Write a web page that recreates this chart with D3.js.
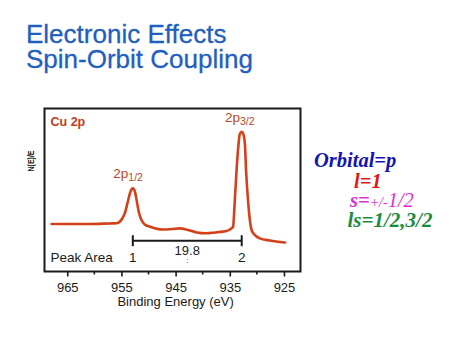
<!DOCTYPE html>
<html>
<head>
<meta charset="utf-8">
<script src="https://cdn.jsdelivr.net/npm/d3@7"></script>
<style>
html,body{margin:0;padding:0;background:#fff;}
svg{display:block;}
</style>
</head>
<body>
<svg id="chart" width="474" height="355"></svg>
<script>
// ---- data ----
const energy = [967.9, 964.5, 960.8, 957.1, 955.9, 954.9, 954.35, 953.75, 953.35, 952.9, 952.5, 952.2, 951.8, 951.3, 950.7, 949.7, 947.3, 945.7, 944.2, 942.7, 941.1, 939.3, 937.75, 936.3, 935.6, 935.0, 934.4, 934.1, 933.75, 933.4, 933.15, 932.8, 932.5, 932.2, 932.0, 931.6, 931.3, 930.98, 930.4, 929.45, 927.6, 924.8];
const intensity = [29.3, 29.3, 29.3, 29.6, 29.7, 32.3, 36.0, 43.9, 48.8, 51.0, 48.8, 43.9, 36.6, 31.7, 29.0, 27.6, 25.9, 26.2, 26.6, 25.6, 24.1, 23.6, 24.1, 24.6, 25.0, 25.9, 27.6, 42.1, 62.2, 77.4, 84.1, 85.5, 84.1, 77.4, 62.2, 42.1, 31.7, 25.6, 22.6, 20.5, 19.2, 18.0];
const tickValues = [965, 955, 945, 935, 925];
const minorTicks = [960, 950, 940, 930];
const peakEnergies = [952.9, 932.8];
const peakLabels = ["1/2", "3/2"];
const peakAreas = ["1", "2"];
const splitting = "19.8";
const titleLines = ["Electronic Effects", "Spin-Orbit Coupling"];

const svg = d3.select("#chart");
const x = d3.scaleLinear().domain([969.2, 921.95]).range([44.5, 300.5]);
const y = d3.scaleLinear().domain([0, 100]).range([272, 108]);
const [x0, x1] = x.range();
const [yb, yt] = y.range();

// title
svg.selectAll("text.title").data(titleLines).join("text")
  .attr("class", "title")
  .attr("x", 26).attr("y", (d, i) => 42.7 + i * 25.2)
  .attr("font-family", "'Liberation Sans', Arial, sans-serif")
  .attr("font-size", 26).attr("fill", "#1f5fbf")
  .attr("stroke", "#1f5fbf").attr("stroke-width", 0.3)
  .text(d => d);

// frame
svg.append("rect")
  .attr("x", x0).attr("y", yt + 0.5).attr("width", x1 - x0).attr("height", yb - yt - 1)
  .attr("fill", "none").attr("stroke", "#1a1a1a").attr("stroke-width", 2);

// axis
const axis = d3.axisBottom(x).tickValues(tickValues).tickSize(5).tickPadding(6).tickFormat(d3.format("d"));
const gAx = svg.append("g").attr("transform", `translate(0,${yb - 0.5})`).call(axis);
gAx.select(".domain").remove();
gAx.selectAll(".tick line").attr("stroke", "#1a1a1a").attr("stroke-width", 1.6);
gAx.selectAll(".tick text").attr("font-family", "'Liberation Sans', Arial, sans-serif").attr("font-size", 13).attr("fill", "#1a1a1a");
svg.append("g").selectAll("line").data(minorTicks).join("line")
  .attr("x1", d => x(d)).attr("x2", d => x(d))
  .attr("y1", yb - 0.5).attr("y2", yb + 2.5)
  .attr("stroke", "#1a1a1a").attr("stroke-width", 1.6);

svg.append("text")
  .attr("x", (x(965) + x(925)) / 2).attr("y", 305.5)
  .attr("text-anchor", "middle")
  .attr("font-family", "'Liberation Sans', Arial, sans-serif").attr("font-size", 13).attr("fill", "#1a1a1a")
  .text("Binding Energy (eV)");

svg.append("text")
  .attr("transform", "translate(33.5,161) rotate(-90)")
  .attr("text-anchor", "middle")
  .attr("font-family", "'Liberation Sans', Arial, sans-serif").attr("font-size", 9.5).attr("font-weight", "bold")
  .attr("textLength", 21).attr("lengthAdjust", "spacingAndGlyphs")
  .attr("fill", "#1a1a1a")
  .text("N(E)/E");

// curve
const pts = energy.map((e, i) => [e, intensity[i]]);
const line = d3.line().x(d => x(d[0])).y(d => y(d[1])).curve(d3.curveMonotoneX);
svg.append("path").datum(pts)
  .attr("d", line)
  .attr("fill", "none").attr("stroke", "#d4401a").attr("stroke-width", 2.6)
  .attr("stroke-linejoin", "round").attr("stroke-linecap", "round");

// labels
svg.append("text")
  .attr("x", 50.5).attr("y", 125.5)
  .attr("font-family", "'Liberation Sans', Arial, sans-serif").attr("font-size", 12.5).attr("font-weight", "bold")
  .attr("fill", "#c23a1c").text("Cu 2p");

const labelPos = [[113.3, 177.5], [225, 121.7]];
peakLabels.forEach((lab, i) => {
  const t = svg.append("text")
    .attr("x", labelPos[i][0]).attr("y", labelPos[i][1])
    .attr("font-family", "'Liberation Sans', Arial, sans-serif").attr("font-size", 13.5)
    .attr("fill", "#c0452a");
  t.append("tspan").text("2p");
  t.append("tspan").attr("dy", 3.5).attr("font-size", 10.5).text(lab);
});

// bracket
const by = 240.7;
svg.append("line")
  .attr("x1", x(peakEnergies[0])).attr("x2", x(peakEnergies[1]))
  .attr("y1", by).attr("y2", by)
  .attr("stroke", "#1a1a1a").attr("stroke-width", 2);
svg.append("g").selectAll("line").data(peakEnergies).join("line")
  .attr("x1", d => x(d)).attr("x2", d => x(d))
  .attr("y1", by - 5.5).attr("y2", by + 5.5)
  .attr("stroke", "#1a1a1a").attr("stroke-width", 2);

svg.append("text")
  .attr("x", (x(peakEnergies[0]) + x(peakEnergies[1])) / 2).attr("y", 254.5)
  .attr("text-anchor", "middle")
  .attr("font-family", "'Liberation Sans', Arial, sans-serif").attr("font-size", 13).attr("fill", "#1a1a1a")
  .text(splitting);
svg.append("text")
  .attr("x", (x(peakEnergies[0]) + x(peakEnergies[1])) / 2).attr("y", 262.5)
  .attr("text-anchor", "middle")
  .attr("font-family", "'Liberation Sans', Arial, sans-serif").attr("font-size", 8).attr("fill", "#1a1a1a")
  .text(":");

svg.append("text")
  .attr("x", 50.5).attr("y", 261.7)
  .attr("font-family", "'Liberation Sans', Arial, sans-serif").attr("font-size", 13.5).attr("fill", "#1a1a1a")
  .text("Peak Area");
svg.append("g").selectAll("text").data(peakAreas).join("text")
  .attr("x", (d, i) => x(peakEnergies[i])).attr("y", 261.7)
  .attr("text-anchor", "middle")
  .attr("font-family", "'Liberation Sans', Arial, sans-serif").attr("font-size", 13.5).attr("fill", "#1a1a1a")
  .text(d => d);

// right annotations
const serif = "'Liberation Serif', 'Times New Roman', serif";
function ann(xp, yp, color) {
  return svg.append("text").attr("x", xp).attr("y", yp)
    .attr("font-family", serif).attr("font-size", 20.5).attr("font-style", "italic").attr("font-weight", "bold")
    .attr("fill", color);
}
ann(314, 166.5, "#1414b4").text("Orbital=p");
ann(354, 187.5, "#e01818").text("l=1");
const s = ann(350, 207, "#e030d8");
s.append("tspan").text("s=");
s.append("tspan").attr("font-size", 14).attr("font-weight", "normal").text("+/-");
s.append("tspan").attr("font-weight", "normal").text("1/2");
ann(347.5, 227, "#1a8c3c").attr("font-size", 21).text("ls=1/2,3/2");
</script>
</body>
</html>
